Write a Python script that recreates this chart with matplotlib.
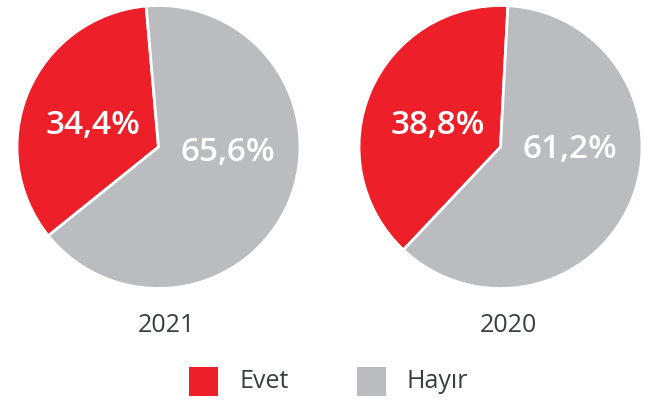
import matplotlib
matplotlib.use("Agg")
import matplotlib.pyplot as plt
from matplotlib.patches import Rectangle

years = ["2021", "2020"]
categories = ["Evet", "Hayır"]
evet = [34.4, 38.8]
hayir = [65.6, 61.2]
value_labels = [["34,4%", "65,6%"], ["38,8%", "61,2%"]]

RED = "#ED1F29"
GRAY = "#BABCBF"
TXT = "#3A3D42"
FONT = "Open Sans"

W, H = 646, 402
fig = plt.figure(figsize=(W / 100, H / 100), dpi=100)

centers = [(158.5, 148.0), (500.5, 148.0)]
R = 141.5
starts = [95, 87]
label_pos = [[(-0.46, 0.16), (0.49, -0.03)], [(-0.44, 0.16), (0.49, -0.01)]]

for i, (cx, cy) in enumerate(centers):
    ax = fig.add_axes([(cx - R) / W, (H - cy - R) / H, 2 * R / W, 2 * R / H])
    ax.pie([evet[i], hayir[i]], colors=[RED, GRAY], startangle=starts[i],
           counterclock=True, radius=1,
           wedgeprops=dict(edgecolor="white", linewidth=2))
    ax.set_xlim(-1.0, 1.0)
    ax.set_ylim(-1.0, 1.0)
    ax.set_aspect("equal")
    ax.axis("off")
    for (tx, ty), lab in zip(label_pos[i], value_labels[i]):
        ax.text(tx, ty, lab, ha="center", va="center", color="white",
                fontsize=24, family=FONT, fontweight="semibold")
    fig.text((cx + 8) / W, 1 - 326 / H, years[i], ha="center", va="center",
             color=TXT, fontsize=18, family=FONT)

# legend
leg_items = [(189, categories[0], RED), (357, categories[1], GRAY)]
for x0, lab, col in leg_items:
    fig.patches.append(Rectangle((x0 / W, 1 - 397 / H), 29 / W, 29 / H,
                                 transform=fig.transFigure, facecolor=col,
                                 edgecolor="none"))
    fig.text((x0 + 50) / W, 1 - 382 / H, lab, ha="left", va="center",
             color=TXT, fontsize=18, family=FONT)

fig.savefig("out.png", dpi=100, facecolor="white")
